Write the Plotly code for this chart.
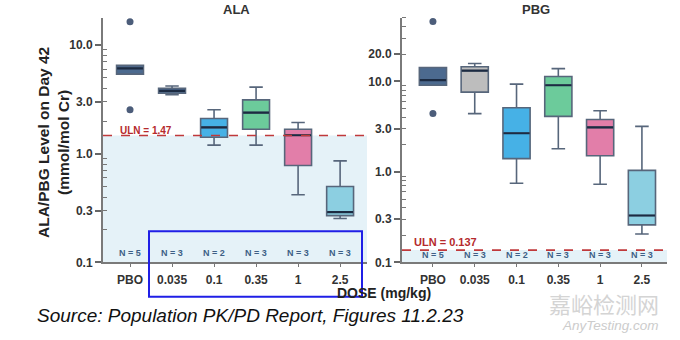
import numpy as np
import plotly.graph_objects as go

# ---------------- data ----------------
doses = ["PBO", "0.035", "0.1", "0.35", "1", "2.5"]
n_per_dose = [5, 3, 2, 3, 3, 3]

# ALA (mmol/mol Cr)
ala_lower = [5.4, 3.5, 1.2, 1.2, 0.42, 0.254]
ala_q1 = [5.4, 3.6, 1.42, 1.68, 0.78, 0.27]
ala_median = [6.1, 3.78, 1.75, 2.39, 1.48, 0.29]
ala_q3 = [6.5, 4.0, 2.11, 3.13, 1.68, 0.50]
ala_upper = [6.5, 4.2, 2.54, 4.1, 1.94, 0.86]
ala_out_x = ["PBO", "PBO"]
ala_out_y = [16.4, 2.54]
ala_uln = 1.47

# PBG (mmol/mol Cr)
pbg_lower = [9.05, 4.4, 0.75, 1.8, 0.73, 0.206]
pbg_q1 = [9.05, 7.6, 1.4, 4.1, 1.51, 0.26]
pbg_median = [10.3, 13.1, 2.67, 9.05, 3.1, 0.33]
pbg_q3 = [14.2, 14.5, 5.1, 11.3, 3.79, 1.04]
pbg_upper = [14.2, 15.7, 9.3, 13.8, 4.74, 3.18]
pbg_out_x = ["PBO", "PBO"]
pbg_out_y = [45.6, 4.4]
pbg_uln = 0.137

ala_colors = ["#4c6a8f", "#4c6a8f", "#46b1e6", "#6ccb9b", "#e27ea9", "#8ccfe1"]
pbg_colors = ["#4c6a8f", "#bdbdbd", "#46b1e6", "#6ccb9b", "#e27ea9", "#8ccfe1"]

W, H = 680, 340
FONT = "Liberation Sans"
OUTLINE = "#57667b"
MEDIAN = "#1c2b42"
TXT = "#333333"

fig = go.Figure()


def add_panel(xa, ya, lower, q1, med, q3, upper, colors, out_x, out_y, width):
    for i, d in enumerate(doses):
        fig.add_trace(go.Box(
            x=[d], q1=[q1[i]], median=[med[i]], q3=[q3[i]],
            lowerfence=[lower[i]], upperfence=[upper[i]],
            fillcolor=colors[i], line=dict(color=OUTLINE, width=1.6),
            width=width, boxpoints=False, showlegend=False,
            xaxis=xa, yaxis=ya, hoverinfo="skip"))
        # darker, thicker median line
        fig.add_trace(go.Box(
            x=[d], q1=[med[i]], median=[med[i]], q3=[med[i]],
            lowerfence=[med[i]], upperfence=[med[i]],
            fillcolor="rgba(0,0,0,0)", line=dict(color=MEDIAN, width=2.2),
            width=width * 0.96, boxpoints=False, showlegend=False,
            xaxis=xa, yaxis=ya, hoverinfo="skip"))
    fig.add_trace(go.Scatter(
        x=out_x, y=out_y, mode="markers",
        marker=dict(color="#4c5d7a", size=7), showlegend=False,
        xaxis=xa, yaxis=ya, hoverinfo="skip"))


add_panel("x", "y", ala_lower, ala_q1, ala_median, ala_q3, ala_upper,
          ala_colors, ala_out_x, ala_out_y, 0.64)
add_panel("x2", "y2", pbg_lower, pbg_q1, pbg_median, pbg_q3, pbg_upper,
          pbg_colors, pbg_out_x, pbg_out_y, 0.65)

# minor tick positions for log axes
minor_vals = [m * 10.0 ** e for e in range(-1, 2) for m in range(2, 10)]

ydom = [1 - 268 / H, 1 - 18 / H]
yaxis_common = dict(
    type="log", domain=ydom, showgrid=False, zeroline=False,
    showline=True, linecolor="#7a7a7a", linewidth=2,
    ticks="outside", ticklen=6, tickwidth=1.5, tickcolor="#666",
    tickfont=dict(family=FONT, size=12, color=TXT, weight="bold"),
    minor=dict(tickmode="array", tickvals=minor_vals, ticks="inside",
               ticklen=4, tickwidth=1.2, tickcolor="#777", showgrid=False),
)
xaxis_common = dict(
    type="category", categoryorder="array", categoryarray=doses,
    showgrid=False, zeroline=False, showline=True, linecolor="#7a7a7a",
    linewidth=2, ticks="outside", ticklen=3, tickcolor="#777",
    ticklabelstandoff=2,
    tickfont=dict(family=FONT, size=12, color=TXT, weight="bold"),
)

fig.update_layout(
    width=W, height=H, margin=dict(l=0, r=0, t=0, b=0),
    paper_bgcolor="white", plot_bgcolor="rgba(0,0,0,0)",
    boxmode="overlay",
    xaxis=dict(xaxis_common, domain=[103 / W, 367 / W], range=[-0.643, 5.64],
               anchor="y"),
    yaxis=dict(yaxis_common, anchor="x", range=[-1, 1.252],
               tickvals=[0.1, 0.3, 1, 3, 10],
               ticktext=["0.1", "0.3", "1.0", "3.0", "10.0"]),
    xaxis2=dict(xaxis_common, domain=[402 / W, 667 / W], range=[-0.74, 5.6],
                anchor="y2"),
    yaxis2=dict(yaxis_common, anchor="x2", range=[-1, 1.703],
                tickvals=[0.1, 0.3, 1, 3, 10, 20],
                ticktext=["0.1", "0.3", "1.0", "3.0", "10.0", "20.0"]),
)

# shaded region below ULN + dashed ULN lines
for xr, yr, uln in [("x domain", "y", ala_uln), ("x2 domain", "y2", pbg_uln)]:
    fig.add_shape(type="rect", xref=xr, yref=yr, x0=0, x1=1, y0=0.1, y1=uln,
                  fillcolor="#e5f2f8", line=dict(width=0), layer="below")
    fig.add_shape(type="line", xref=xr, yref=yr, x0=0, x1=1, y0=uln, y1=uln,
                  line=dict(color="#c0393b", width=1.6, dash="dash"))


def note(px, py, text, size, color, weight="bold", **kw):
    fig.add_annotation(x=px / W, y=1 - py / H, xref="paper", yref="paper",
                       xanchor=kw.pop("xanchor", "center"), yanchor="middle",
                       text=text, showarrow=False, borderpad=0,
                       font=dict(family=kw.pop("family", FONT), size=size,
                                 color=color, weight=weight), **kw)


red = "#b52a2c"
note(146, 133, f"ULN = {ala_uln}", 10, red)
note(445, 247, f"ULN = {pbg_uln}", 11, red)

# N labels
for xa, py in [("x", 258), ("x2", 260)]:
    for i, n in enumerate(n_per_dose):
        fig.add_annotation(x=i, y=1 - py / H, xref=xa, yref="paper",
                           xanchor="center", yanchor="middle",
                           text=f"N = {n}", showarrow=False,
                           font=dict(family=FONT, size=9, color="#3e5f86",
                                     weight="bold"))

# panel titles
note(236, 10, "ALA", 13, TXT)
note(536, 10, "PBG", 13, TXT)

# y-axis title
note(54, 146, "ALA/PBG Level on Day 42<br>(mmol/mol Cr)", 15.5, "#222",
     textangle=-90)

# x-axis title
note(384, 299.5, "DOSE (mg/kg)", 14, "#222")

# blue highlight rectangle
fig.add_shape(type="rect", xref="paper", yref="paper",
              x0=149 / W, x1=362 / W, y0=1 - 303 / H, y1=1 - 236 / H,
              line=dict(color="#1f1fe6", width=2), fillcolor="rgba(0,0,0,0)")

# caption
note(36, 322, "<i>Source: Population PK/PD Report, Figures 11.2.23</i>", 19,
     "#111", weight="normal", xanchor="left")

# watermark
note(604, 309, "嘉峪检测网", 22, "#d4d4d4", weight="normal",
     family="Noto Sans CJK SC")
note(610, 332, "<i>AnyTesting.com</i>", 13.5, "#cccccc", weight="normal")

fig.write_html("out.html")
